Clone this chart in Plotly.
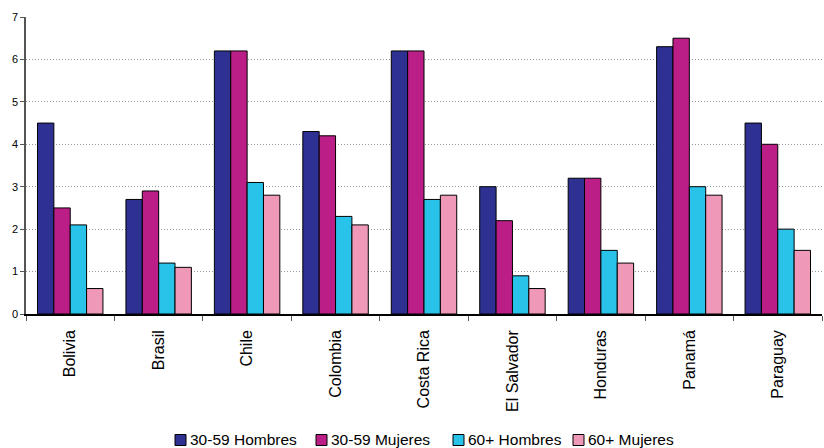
import plotly.graph_objects as go

countries = ["Bolivia", "Brasil", "Chile", "Colombia", "Costa Rica",
             "El Salvador", "Honduras", "Panamá", "Paraguay"]
h3059 = [4.5, 2.7, 6.2, 4.3, 6.2, 3.0, 3.2, 6.3, 4.5]
m3059 = [2.5, 2.9, 6.2, 4.2, 6.2, 2.2, 3.2, 6.5, 4.0]
h60 = [2.1, 1.2, 3.1, 2.3, 2.7, 0.9, 1.5, 3.0, 2.0]
m60 = [0.6, 1.1, 2.8, 2.1, 2.8, 0.6, 1.2, 2.8, 1.5]
series_names = ["30-59 Hombres", "30-59 Mujeres", "60+ Hombres", "60+ Mujeres"]
colors = ["#2E3192", "#BB1F87", "#29C2E8", "#EF98B8"]

# layout geometry (pixels)
W, H = 824, 448
ML, MR, MT, MB = 26, 2, 17, 134
PW, PH = W - ML - MR, H - MT - MB
legend_square_left = [175, 316, 453, 573]   # legend entry positions (px)
legend_center_y = 440
sq = 11

def px_x(p):
    return (p - ML) / PW

def px_y(p):
    return (H - MB - p) / PH

fig = go.Figure()
for name, vals, col in zip(series_names, [h3059, m3059, h60, m60], colors):
    fig.add_trace(go.Bar(x=countries, y=vals, name=name, showlegend=False,
                         marker=dict(color=col, line=dict(color="black", width=1))))

# custom legend: squares + text
for name, col, lx in zip(series_names, colors, legend_square_left):
    fig.add_shape(type="rect", xref="paper", yref="paper",
                  x0=px_x(lx), x1=px_x(lx + sq),
                  y0=px_y(legend_center_y + sq / 2), y1=px_y(legend_center_y - sq / 2),
                  fillcolor=col, line=dict(color="black", width=1))
    fig.add_annotation(xref="paper", yref="paper", x=px_x(lx + sq + 2), y=px_y(legend_center_y - 1),
                       xanchor="left", yanchor="middle", showarrow=False,
                       text=name, font=dict(size=15.5, color="black"))

fig.update_layout(
    width=W, height=H,
    margin=dict(l=ML, r=MR, t=MT, b=MB, autoexpand=False),
    paper_bgcolor="white", plot_bgcolor="white",
    barmode="group", bargap=0.26, bargroupgap=0,
    font=dict(family="Liberation Sans, Arial, sans-serif", color="black"),
    showlegend=False,
    xaxis=dict(type="category", tickangle=-90, tickfont=dict(size=16),
               showline=True, linecolor="black", linewidth=1.5,
               ticks="outside", tickson="boundaries", ticklen=5, tickcolor="#555555",
               ticklabelstandoff=8, showgrid=False),
    yaxis=dict(range=[0, 7], dtick=1, tickfont=dict(size=11),
               showline=True, linecolor="#555555", linewidth=1.5,
               ticks="outside", ticklen=4, tickcolor="#555555",
               showgrid=True, gridcolor="#999999", griddash="1px,2px", gridwidth=1,
               zeroline=False),
)

fig.write_html("out.html")
